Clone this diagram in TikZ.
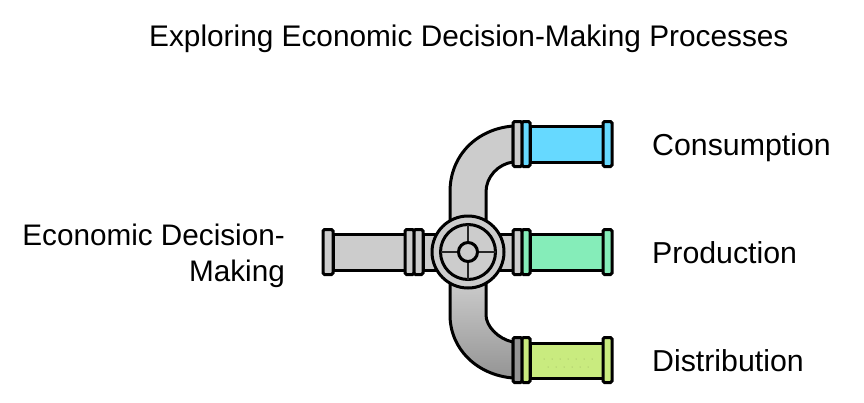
\documentclass[tikz,border=0pt]{standalone}
\usepackage{fontspec}
\setmainfont{Liberation Sans}
\usepackage{tikz}
\definecolor{pipegray}{HTML}{CCCCCC}
\definecolor{pipeblue}{HTML}{66D9FF}
\definecolor{pipegreen}{HTML}{85EDB9}
\definecolor{pipelime}{HTML}{C9EB7F}
\tikzset{
	pipeline/.style={draw=black, line width=3pt},
	flange/.style={pipeline, rounded corners=1.5pt},
	spoke/.style={draw=black!85, line width=2.4pt},
	label/.style={inner sep=0pt, text=black, font=\fontsize{30.3}{36}\selectfont},
}
\def\flangebox[#1](#2,#3,#4){\draw[flange, fill=#1] (#2, #4-22.5) rectangle (#3, #4+22.5);}

\begin{document}
\begin{tikzpicture}[x=1pt, y=-1pt]
		%%%%% START %%%%%
		\useasboundingbox (0, 0) rectangle (864, 402);
		
		\node[label, anchor=base west, font=\fontsize{29.8}{30}\selectfont] (title) at (149, 46) {Exploring Economic Decision-Making Processes};
		
		% elbows
		\draw[pipeline, fill=pipegray] (513, 126) .. controls (477, 129) and (450, 155) .. (450, 192) -- (450, 225) -- (486, 225) -- (486, 192) .. controls (486, 177) and (498, 164) .. (513, 162) -- cycle;
		\draw[pipeline, top color=pipegray, bottom color=black!42] (450, 280) -- (450, 315) .. controls (450, 349) and (477, 375) .. (513, 378) -- (513, 342) .. controls (498, 339) and (486, 326) .. (486, 315) -- (486, 280) -- cycle;
		
		% left pipe and stub
		\draw[pipeline, fill=pipegray] (333, 234) rectangle (405, 270);
		\draw[pipeline, fill=pipegray] (423, 234) rectangle (513, 270);
		\flangebox[pipegray](323,333,252)
		\flangebox[pipegray](405,414,252)
		\flangebox[pipegray](414,423,252)
		
		% top outlet
		\draw[pipeline, fill=pipeblue] (530, 126) rectangle (603, 162);
		\flangebox[pipegray](513,522,144)
		\flangebox[pipeblue](522,530,144)
		\flangebox[pipeblue](603,612,144)
		
		% middle outlet
		\draw[pipeline, fill=pipegreen] (530, 234) rectangle (603, 270);
		\flangebox[pipegray](513,522,252)
		\flangebox[pipegreen](522,530,252)
		\flangebox[pipegreen](603,612,252)
		
		% bottom outlet
		\draw[pipeline, fill=pipelime] (530, 343) rectangle (603, 378);
		\flangebox[black!42](513,522,360)
		\flangebox[pipelime](522,530,360)
		\flangebox[pipelime](603,612,360)
		\foreach \dotx in {544, 552, 560, 568, 576, 584, 592}
			\fill[black!30!pipelime] (\dotx, 359) circle (0.5);
		\foreach \dotx in {548, 556, 564, 572, 580, 588}
			\fill[black!30!pipelime] (\dotx, 367) circle (0.5);
		
		% valve
		\draw[pipeline, fill=pipegray] (468, 252) circle (36);
		\draw[pipeline, fill=pipegray] (468, 252) circle (27.5);
		\draw[spoke] (440.5, 252) -- (495.5, 252);
		\draw[spoke] (468, 224.5) -- (468, 279.5);
		\draw[pipeline, fill=pipegray] (468, 252) circle (9.5);
		
		% labels
		\node[label, anchor=base west] (consumption) at (652, 155) {Consumption};
		\node[label, anchor=base west] (production) at (652, 263) {Production};
		\node[label, anchor=base west] (distribution) at (652, 371) {Distribution};
		\node[label, anchor=base east, font=\fontsize{29.7}{36}\selectfont] (decision) at (285, 245) {Economic Decision-};
		\node[label, anchor=base east, font=\fontsize{29.7}{36}\selectfont] (making) at (285, 281) {Making};
		
		%%%%% END %%%%%
	\end{tikzpicture}
\end{document}
